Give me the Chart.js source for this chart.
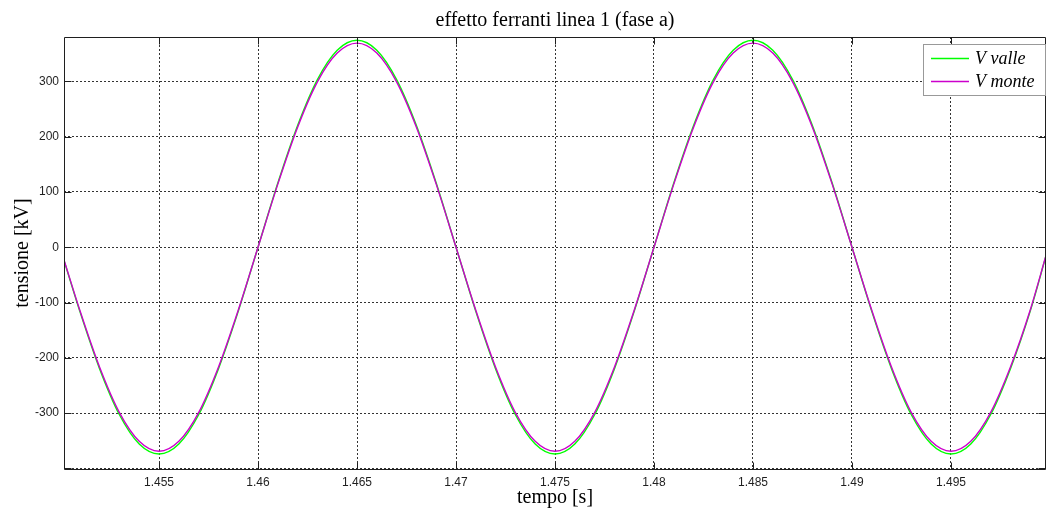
<!DOCTYPE html>
<html lang="it">
<head>
    <meta charset="UTF-8">
    <title>effetto ferranti linea 1 (fase a)</title>
    <script src="https://cdn.jsdelivr.net/npm/chart.js"></script>
    <style>
        body { margin: 0; background: #fff; }
        #wrap { width: 1047px; height: 515px; }
    </style>
</head>
<body>
    <div id="wrap"><canvas id="ferranti" width="1047" height="515"></canvas></div>

    <script>
        // tempo [s] e tensioni [kV]
        const tempo = [
            1.4502, 1.451, 1.452, 1.453, 1.454, 1.455, 1.456, 1.457, 1.458, 1.459,
            1.460, 1.461, 1.462, 1.463, 1.464, 1.465, 1.466, 1.467, 1.468, 1.469,
            1.470, 1.471, 1.472, 1.473, 1.474, 1.475, 1.476, 1.477, 1.478, 1.479,
            1.480, 1.481, 1.482, 1.483, 1.484, 1.485, 1.486, 1.487, 1.488, 1.489,
            1.490, 1.491, 1.492, 1.493, 1.494, 1.495, 1.496, 1.497, 1.498, 1.499,
            1.4998
        ];
        const vValle = [
            -24, -116, -220, -303, -356, -374, -356, -303, -220, -116,
            0, 116, 220, 303, 356, 374, 356, 303, 220, 116,
            0, -116, -220, -303, -356, -374, -356, -303, -220, -116,
            0, 116, 220, 303, 356, 374, 356, 303, 220, 116,
            0, -116, -220, -303, -356, -374, -356, -303, -220, -116,
            -16
        ];
        const vMonte = [
            -23, -114, -217, -299, -351, -369, -351, -299, -217, -114,
            0, 114, 217, 299, 351, 369, 351, 299, 217, 114,
            0, -114, -217, -299, -351, -369, -351, -299, -217, -114,
            0, 114, 217, 299, 351, 369, 351, 299, 217, 114,
            0, -114, -217, -299, -351, -369, -351, -299, -217, -114,
            -15
        ];
        const etichette = ['V valle', 'V monte'];
        const colori = ['#00ff00', '#cc00cc'];

        const asse = '#1f1f1f';

        // cornice chiusa con tacche verso l'interno, come in MATLAB
        const cornice = {
            id: 'cornice',
            afterDatasetsDraw(chart) {
                const { ctx, chartArea: a, scales } = chart;
                const L = Math.round(a.left) + 0.5, R = Math.round(a.right) - 0.5;
                const T = Math.round(a.top) + 0.5, B = Math.round(a.bottom) + 0.5;
                ctx.save();
                ctx.strokeStyle = asse;
                ctx.lineWidth = 1;
                ctx.setLineDash([]);
                ctx.beginPath();
                ctx.moveTo(L, T); ctx.lineTo(R, T); ctx.lineTo(R, B); ctx.lineTo(L, B); ctx.closePath();
                scales.x.ticks.forEach(t => {
                    const px = Math.round(scales.x.getPixelForValue(t.value)) + 0.5;
                    ctx.moveTo(px, B); ctx.lineTo(px, B - 7);
                    ctx.moveTo(px, T); ctx.lineTo(px, T + 7);
                });
                scales.y.ticks.forEach(t => {
                    const py = Math.round(scales.y.getPixelForValue(t.value)) + 0.5;
                    if (py > B) return;
                    ctx.moveTo(L, py); ctx.lineTo(L + 7, py);
                    ctx.moveTo(R, py); ctx.lineTo(R - 7, py);
                });
                ctx.stroke();
                ctx.restore();
            },
            afterDraw(chart) {
                const { ctx, chartArea: a } = chart;
                ctx.save();
                // titolo
                ctx.fillStyle = '#000';
                ctx.font = '20px "Liberation Serif"';
                ctx.textAlign = 'center';
                ctx.textBaseline = 'alphabetic';
                ctx.fillText('effetto ferranti linea 1 (fase a)', (a.left + a.right) / 2, 26);
                // legenda
                const bx = 923.5, by = 44.5, bw = 122, bh = 51;
                ctx.fillStyle = '#fff';
                ctx.fillRect(bx, by, bw, bh);
                ctx.strokeStyle = '#999';
                ctx.lineWidth = 1;
                ctx.strokeRect(bx, by, bw, bh);
                ctx.font = 'italic 18px "Liberation Serif"';
                ctx.textAlign = 'left';
                etichette.forEach((lab, i) => {
                    const yl = 58.5 + i * 23;
                    ctx.strokeStyle = colori[i];
                    ctx.lineWidth = 1.3;
                    ctx.beginPath();
                    ctx.moveTo(931, yl); ctx.lineTo(969, yl);
                    ctx.stroke();
                    ctx.fillStyle = '#000';
                    ctx.fillText(lab, 975, 63.5 + i * 23);
                });
                ctx.restore();
            }
        };

        const griglia = {
            color: '#333',
            lineWidth: 1,
            drawTicks: false
        };

        const ctx = document.getElementById('ferranti').getContext('2d');
        new Chart(ctx, {
            type: 'line',
            data: {
                datasets: [
                    { label: etichette[0], data: tempo.map((t, i) => ({ x: t, y: vValle[i] })),
                      borderColor: colori[0], borderWidth: 1.4, order: 2 },
                    { label: etichette[1], data: tempo.map((t, i) => ({ x: t, y: vMonte[i] })),
                      borderColor: colori[1], borderWidth: 1.4, order: 1 }
                ]
            },
            options: {
                responsive: false,
                animation: false,
                devicePixelRatio: 1,
                layout: { padding: { top: 37, right: 1, left: 0, bottom: 0 } },
                elements: {
                    point: { radius: 0 },
                    line: { cubicInterpolationMode: 'monotone', fill: false }
                },
                plugins: {
                    legend: { display: false },
                    title: { display: false },
                    tooltip: { enabled: false }
                },
                scales: {
                    x: {
                        type: 'linear',
                        min: 1.4502,
                        max: 1.4998,
                        afterFit: s => { s.height = 46; },
                        grid: griglia,
                        border: { display: false, dash: [2, 2] },
                        ticks: {
                            stepSize: 0.005,
                            includeBounds: false,
                            autoSkip: false,
                            maxRotation: 0,
                            padding: 6,
                            color: asse,
                            font: { family: '"Liberation Sans"', size: 12 },
                            callback: v => String(+v.toFixed(3))
                        },
                        title: {
                            display: true,
                            text: 'tempo [s]',
                            color: '#000',
                            font: { family: '"Liberation Serif"', size: 20 },
                            padding: { top: 0, bottom: 5 }
                        }
                    },
                    y: {
                        min: -401,
                        max: 380,
                        afterFit: s => { s.width = 64; },
                        grid: griglia,
                        border: { display: false, dash: [2, 2] },
                        ticks: {
                            stepSize: 100,
                            includeBounds: false,
                            padding: 5,
                            color: asse,
                            font: { family: '"Liberation Sans"', size: 12 },
                            callback: v => (v <= -400 ? '' : String(v))
                        },
                        title: {
                            display: true,
                            text: 'tensione [kV]',
                            color: '#000',
                            font: { family: '"Liberation Serif"', size: 20 },
                            padding: { top: 11, bottom: 0 }
                        }
                    }
                }
            },
            plugins: [cornice]
        });
    </script>
</body>
</html>
